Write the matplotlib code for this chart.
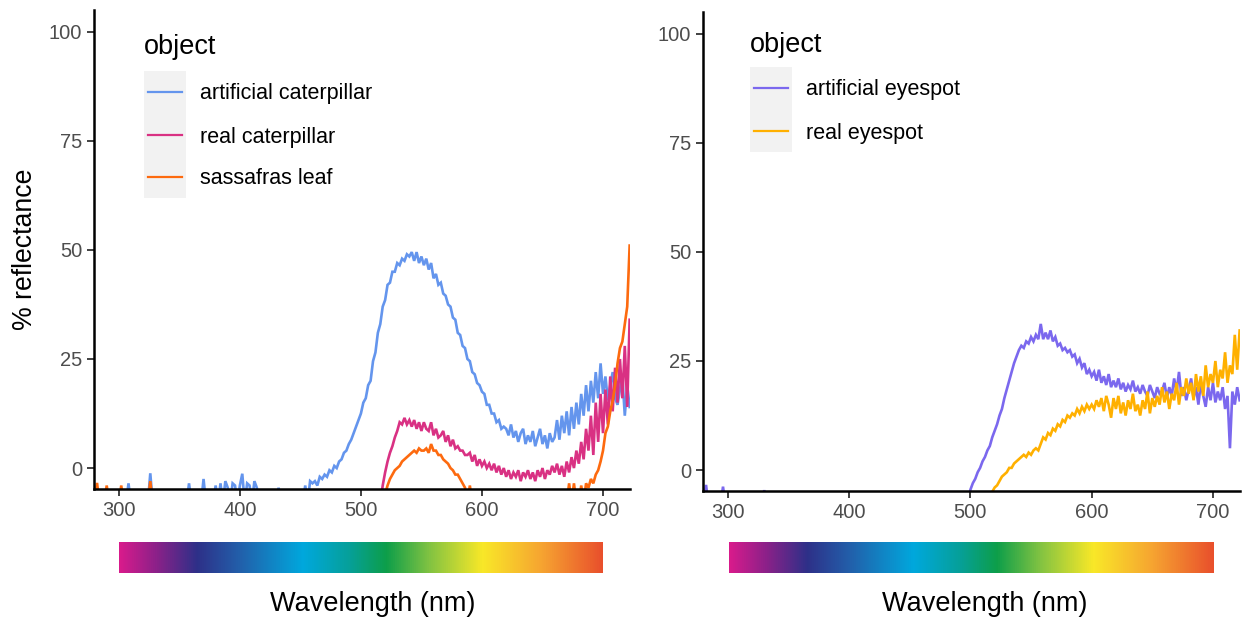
import numpy as np
import matplotlib
matplotlib.use("Agg")
import matplotlib.pyplot as plt
from matplotlib.colors import LinearSegmentedColormap
from matplotlib.lines import Line2D
from matplotlib.patches import Rectangle

plt.rcParams['font.family'] = ['Liberation Sans', 'DejaVu Sans']

# ---------------- data (reflectance %, every 2 nm) ----------------
STEP = 2
art_cat_start = 280
art_cat = [
    -8, -8, -8, -8, -8, -8, -8, -8, -8, -8,
    -8, -8, -8, -8, -3.5, -8, -8, -8, -8, -8,
    -8, -8, -8, -1.2, -8, -8, -8, -8, -8, -8,
    -8, -8, -8, -8, -8, -8, -8, -8, -8, -3.5,
    -8, -8, -8, -8, -8, -2.5, -8, -8, -8, -8,
    -4, -8, -3.5, -8, -3, -4.5, -8, -3.5, -4, -8,
    -4, -1.3, -8, -3.5, -4, -8, -3, -4.5, -8, -8,
    -8, -8, -8, -8, -8, -8, -4.5, -8, -8, -8,
    -8, -8, -8, -8, -8, -8, -8, -4, -8, -3,
    -3.5, -3, -4, -2, -2.5, -1.5, -2, -0.5, -1, 0.5,
    0, 1.5, 2, 3.5, 4, 5.5, 6.5, 8, 9.5, 11,
    12.5, 15, 16, 19, 20, 24.5, 26.5, 31, 33, 37,
    38.5, 42, 42.5, 45, 45, 47, 46.5, 48, 47.5, 49,
    48.5, 49.5, 47.5, 49.5, 47, 48.5, 46.5, 48, 45.5, 47,
    43.5, 44.5, 42, 42.5, 40, 39.5, 37.5, 37, 34.5, 34,
    31, 30.5, 28, 27.5, 25, 24.5, 22, 21.5, 19.5, 19,
    17.5, 17, 14.5, 14.5, 12.5, 12.5, 10.5, 11, 9, 9.5,
    9, 7.5, 10, 7, 8.5, 6, 8, 9, 5.5, 7.5,
    6, 8.5, 5, 7, 9, 5.5, 7.5, 4.5, 8, 6,
    7, 11, 6.5, 12, 8, 13, 7.5, 14, 9, 15,
    10, 17, 12, 19, 13, 20, 15, 22, 16, 24,
    17, 21, 15.5, 19, 22, 16, 14.5, 18, 21, 12,
    19, 14,
]

real_cat_start = 516
real_cat = [
    -8, -4, -1, 1.5, 3.5, 5, 7, 8.5, 10.5, 10, 11.5, 10,
    11, 9.5, 11, 9, 10.5, 8.5, 10.5, 9, 8.5, 10.5,
    7.5, 9, 7, 7.5, 8.5, 6, 7.5, 5, 6.5, 4.5,
    5, 4, 4, 3, 3, 3.5, 1.5, 3, 0.5, 2,
    0.5, 1.5, 0, 1, -0.5, 1, -1, 0.5, -1.5, 0,
    -2, -0.5, -2.5, -1, -2, -0.5, -3, -1, -2, -0.5,
    -2.5, -1, -3, -0.5, -2, 0, -2.5, -0.5, -1.5, 0.5,
    -1, 1, -1.5, 0.5, -2, 1.5, -1, 2.5, 0, 4,
    1, 6, 2, 9, 4, 12, 3, 15, 6, 17,
    8, 18, 10, 21, 13, 23, 15, 25, 16, 28,
    14, 34,
]

sassafras_start = 280
sassafras = [
    -8, -3.4, -8, -8, -8, -4, -8, -8, -8, -8,
    -8, -4, -8, -8, -8, -8, -8, -8, -8, -8,
    -8, -8, -8, -3, -8, -8, -8, -8, -8, -8,
    -8, -8, -8, -8, -8, -8, -8, -8, -8, -8,
    -8, -8, -8, -8, -8, -8, -8, -8, -8, -8,
    -8, -8, -8, -8, -8, -8, -8, -8, -8, -8,
    -8, -8, -8, -8, -8, -8, -8, -8, -8, -8,
    -8, -8, -8, -8, -8, -8, -8, -8, -8, -8,
    -8, -8, -8, -8, -8, -8, -8, -8, -8, -8,
    -8, -8, -8, -8, -8, -8, -8, -8, -8, -8,
    -8, -8, -8, -8, -8, -8, -8, -8, -8, -8,
    -8, -8, -8, -8, -8, -8, -8, -8, -8, -8,
    -6, -4, -2.5, -1.5, -0.5, 0, 0.5, 1.5, 2, 2.5,
    3, 3.5, 4, 3.5, 4.5, 4, 4, 4.5, 3.5, 5.5,
    4, 4, 3, 3, 2, 1.5, 1, 0, -0.5, -1.5,
    -1.5, -2.5, -3.5, -4.5, -8, -4, -8, -8, -8, -8,
    -8, -8, -8, -8, -8, -8, -8, -8, -8, -8,
    -8, -8, -8, -8, -8, -8, -8, -8, -8, -8,
    -8, -8, -8, -8, -8, -8, -8, -8, -8, -8,
    -8, -8, -8, -8, -8, -8, -3.5, -8, -3.5, -8,
    -8, -4, -8, -3.5, -4.5, -2.5, -3.5, -1.5, -0.5, 1.5,
    4, 8, 9.5, 13, 15.5, 19, 24, 27.5, 29, 33,
    37, 51,
]

art_eye_start = 280
art_eye = [
    -8, -3.4, -8, -8, -8, -8, -8, -8, -3.8, -8,
    -8, -8, -8, -8, -8, -8, -8, -8, -8, -8,
    -8, -8, -8, -8, -8, -4.6, -8, -8, -8, -8,
    -8, -8, -8, -8, -8, -8, -8, -8, -8, -8,
    -8, -8, -8, -8, -8, -8, -8, -8, -8, -8,
    -8, -8, -8, -8, -8, -8, -8, -8, -8, -8,
    -8, -8, -8, -8, -8, -8, -8, -8, -8, -8,
    -8, -8, -8, -8, -8, -8, -8, -8, -8, -8,
    -8, -8, -8, -8, -8, -8, -8, -8, -8, -8,
    -8, -8, -8, -8, -8, -8, -8, -8, -8, -8,
    -8, -8, -8, -8, -8, -8, -8, -8, -8, -8,
    -4.5, -3, -2, -0.5, 0.5, 2, 3, 4.5, 5.5, 7.5,
    9, 10.5, 12.5, 14, 16.5, 18.5, 20.5, 22.5, 24.5, 26,
    27.5, 28.5, 28, 29.5, 29, 30.5, 29.5, 31, 30, 33.5,
    30, 31.5, 30, 32, 29.5, 30.5, 28.5, 29, 27.5, 28,
    27, 27.5, 26, 26.5, 24.5, 25.5, 23.5, 24.5, 22, 23,
    21.5, 22.5, 20.5, 23, 20, 21.5, 19.5, 22, 19, 20.5,
    19, 21, 18.5, 20, 18, 19.5, 18.5, 20.5, 18, 19,
    17.5, 19.5, 18, 17, 19.5, 18, 16.5, 19, 17.5, 18,
    20, 16.5, 19, 17, 21, 18, 22.5, 17, 19, 16,
    18.5, 21, 16.5, 19, 15, 20, 17, 14.5, 19, 16,
    20, 15.5, 18, 16, 19, 14, 17, 5, 18, 15,
    19, 16,
]

real_eye_start = 516
real_eye = [
    -8, -5, -4, -3.5, -2.5, -1.5, -1, -0.5, 0.5, 0.5, 1.5, 2,
    2.5, 3, 3.5, 3, 4, 3.5, 4.5, 5, 4.5, 6,
    7.5, 7, 8.5, 8, 9.5, 9, 10.5, 10, 11.5, 11,
    12.5, 12, 13, 12.5, 14, 13, 14.5, 13.5, 15, 14,
    15, 14, 16, 14.5, 16.5, 13.5, 17, 15, 12, 16.5,
    14, 17, 13, 15.5, 12.5, 16, 14, 17.5, 13.5, 15,
    12.5, 16, 14, 18, 13, 16.5, 14.5, 17, 15, 19,
    15.5, 18, 14, 17.5, 16, 20, 15, 19, 17, 21,
    17.5, 20, 16, 22, 18, 21.5, 17, 24, 19, 22,
    20, 25, 19, 23, 21, 27, 20, 24, 22, 31,
    23, 32,
]

panel1_labels = ["artificial caterpillar", "real caterpillar", "sassafras leaf"]
panel2_labels = ["artificial eyespot", "real eyespot"]
panel1_colors = ["#6495ed", "#d93183", "#fd6a0f"]
panel2_colors = ["#7b68ee", "#ffb000"]

yticks = [0, 25, 50, 75, 100]
xticks = [300, 400, 500, 600, 700]

spectrum_nm = [300, 330, 364, 400, 452, 490, 521, 557, 601, 650, 700]
spectrum_col = ["#d81b8c", "#8c2189", "#2e3088", "#2260ab", "#00a8dd", "#06a09a",
                "#0d9e4a", "#82c342", "#f9e828", "#f6a431", "#e9502c"]

# ---------------- figure ----------------
W, H = 1244, 621
fig = plt.figure(figsize=(W / 100, H / 100), dpi=100)


def fx(x):
    return x / W


def fy(y):
    return 1 - y / H


def style_axis(ax):
    for s in ["top", "right"]:
        ax.spines[s].set_visible(False)
    for s in ["left", "bottom"]:
        ax.spines[s].set_linewidth(1.8)
        ax.spines[s].set_color("black")
    ax.set_xlim(279.5, 722.3)
    ax.set_ylim(-4.8, 105)
    ax.set_xticks(xticks)
    ax.set_yticks(yticks)
    ax.tick_params(direction="out", length=5, width=1.3, color="#333333",
                   labelcolor="#4d4d4d", labelsize=14.5, pad=3.5)


ax1 = fig.add_axes([fx(94), fy(489), fx(536), 479 / H])
ax2 = fig.add_axes([fx(703), fy(491), fx(537), 479 / H])

LW = 1.9
for vals, start, col in zip([art_cat, real_cat, sassafras],
                            [art_cat_start, real_cat_start, sassafras_start],
                            panel1_colors):
    x = start + STEP * np.arange(len(vals))
    ax1.plot(x, vals, color=col, lw=LW, solid_joinstyle="miter")

for vals, start, col in zip([art_eye, real_eye],
                            [art_eye_start, real_eye_start],
                            panel2_colors):
    x = start + STEP * np.arange(len(vals))
    ax2.plot(x, vals, color=col, lw=LW, solid_joinstyle="miter")

style_axis(ax1)
style_axis(ax2)

fig.text(fx(25), fy(249), "% reflectance", rotation=90, ha="center", va="center",
         fontsize=19.2, color="black")

# ---------------- spectrum colour bars ----------------
cmap = LinearSegmentedColormap.from_list(
    "spec", [((n - 300) / 400, c) for n, c in zip(spectrum_nm, spectrum_col)])
grad = np.linspace(0, 1, 512).reshape(1, -1)
for left, width, cx in [(119, 484, 373), (729, 485, 985)]:
    cax = fig.add_axes([fx(left), fy(573), fx(width), 31 / H])
    cax.imshow(grad, aspect="auto", cmap=cmap, extent=[300, 700, 0, 1])
    cax.set_axis_off()
    fig.text(fx(cx), fy(604), "Wavelength (nm)", ha="center", va="center",
             fontsize=19.5, color="black")


# ---------------- legends ----------------
def legend(x0, ytitle, ybox, rows, labels, colors):
    fig.text(fx(x0), fy(ytitle), "object", ha="left", va="center", fontsize=19.5)
    bh = rows[-1] - rows[0] + 42
    fig.add_artist(Rectangle((fx(x0), fy(ybox + bh)), 42 / W, bh / H,
                             transform=fig.transFigure, facecolor="#f2f2f2",
                             edgecolor="none"))
    for r, lab, col in zip(rows, labels, colors):
        fig.add_artist(Line2D([fx(x0 + 4), fx(x0 + 38)], [fy(r), fy(r)],
                              transform=fig.transFigure, color=col, lw=1.6))
        fig.text(fx(x0 + 56), fy(r + 2), lab, ha="left", va="center", fontsize=15.5)


legend(144, 47, 71, [92, 135, 177], panel1_labels, panel1_colors)
legend(750, 45, 67, [88, 131], panel2_labels, panel2_colors)

fig.savefig("out.png", dpi=100)
